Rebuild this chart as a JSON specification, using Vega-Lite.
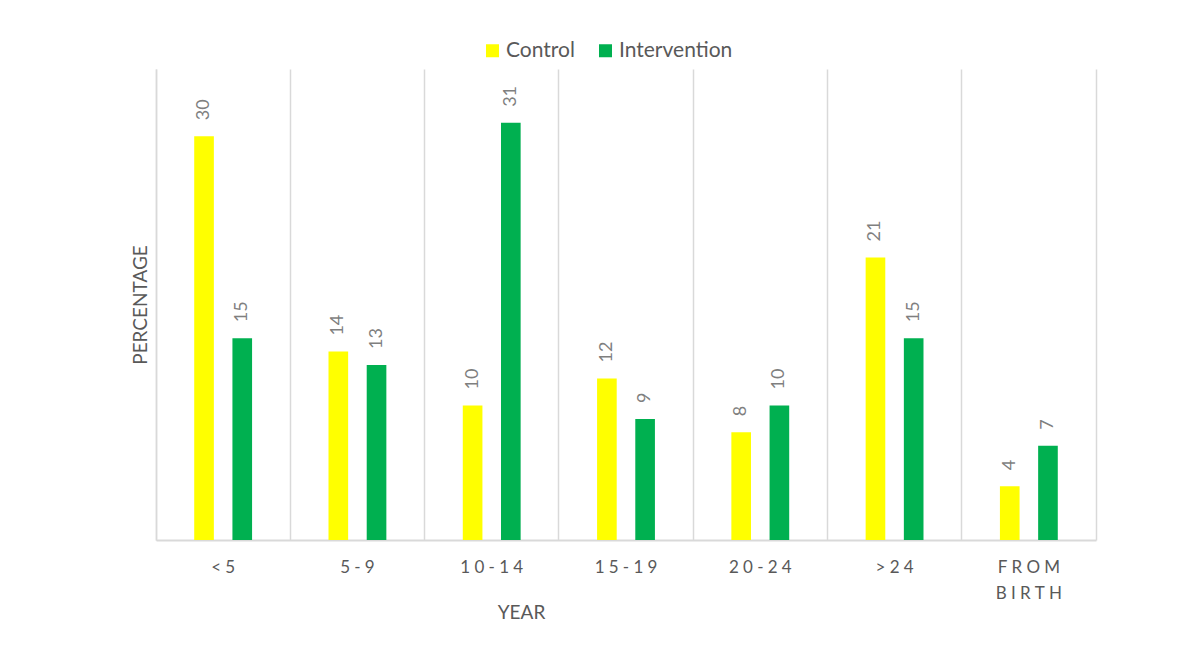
{
  "$schema": "https://vega.github.io/schema/vega-lite/v6.json",
  "width": 940,
  "height": 471,
  "autosize": {"type": "none"},
  "padding": {"left": 156, "top": 69, "right": 102, "bottom": 109},
  "background": "white",
  "config": {"font": "Lato", "view": {"stroke": null}},
  "data": {
    "values": [
      {"age": "<5", "group": "Control", "pct": 30},
      {"age": "<5", "group": "Intervention", "pct": 15},
      {"age": "5-9", "group": "Control", "pct": 14},
      {"age": "5-9", "group": "Intervention", "pct": 13},
      {"age": "10-14", "group": "Control", "pct": 10},
      {"age": "10-14", "group": "Intervention", "pct": 31},
      {"age": "15-19", "group": "Control", "pct": 12},
      {"age": "15-19", "group": "Intervention", "pct": 9},
      {"age": "20-24", "group": "Control", "pct": 8},
      {"age": "20-24", "group": "Intervention", "pct": 10},
      {"age": ">24", "group": "Control", "pct": 21},
      {"age": ">24", "group": "Intervention", "pct": 15},
      {"age": "FROM BIRTH", "group": "Control", "pct": 4},
      {"age": "FROM BIRTH", "group": "Intervention", "pct": 7}
    ]
  },
  "encoding": {
    "x": {
      "field": "age",
      "type": "nominal",
      "sort": ["<5", "5-9", "10-14", "15-19", "20-24", ">24", "FROM BIRTH"],
      "scale": {"paddingInner": 0, "paddingOuter": 0},
      "axis": {
        "title": "YEAR",
        "titleFontSize": 19,
        "titleFontWeight": "normal",
        "titleColor": "#595959",
        "titleX": 365,
        "titleAnchor": "middle",
        "titlePadding": 2,
        "labelAngle": 0,
        "labelFontSize": 17,
        "labelColor": "#595959",
        "labelPadding": 19,
        "labelLineHeight": 26,
        "labelExpr": "split(join(split(datum.label, ''), '\u2005'), '\u2005 \u2005')",
        "ticks": false,
        "grid": true,
        "bandPosition": 0,
        "gridColor": "#d9d9d9",
        "gridWidth": 1.5,
        "domainColor": "#d9d9d9",
        "domainWidth": 2
      }
    },
    "xOffset": {
      "field": "group",
      "type": "nominal",
      "sort": ["Control", "Intervention"],
      "scale": {"paddingInner": 0.486, "paddingOuter": 1.157}
    }
  },
  "layer": [
    {
      "mark": {"type": "bar"},
      "encoding": {
        "y": {
          "field": "pct",
          "type": "quantitative",
          "scale": {"domain": [0, 35]},
          "axis": {
            "title": "PERCENTAGE",
            "titleFontSize": 19,
            "titleFontWeight": "normal",
            "titleColor": "#595959",
            "titlePadding": 6,
            "labels": false,
            "ticks": false,
            "grid": false,
            "domainColor": "#d9d9d9",
            "domainWidth": 1.5
          }
        },
        "color": {
          "field": "group",
          "type": "nominal",
          "scale": {"domain": ["Control", "Intervention"], "range": ["#FFFF00", "#00B050"]},
          "legend": {
            "title": null,
            "orient": "none",
            "direction": "horizontal",
            "legendX": 326,
            "legendY": -29,
            "symbolType": "square",
            "symbolSize": 169,
            "symbolStrokeWidth": 0,
            "symbolOpacity": 1,
            "labelFontSize": 21,
            "labelColor": "#595959",
            "labelOffset": 3,
            "columnPadding": 20
          }
        }
      }
    },
    {
      "mark": {
        "type": "text",
        "angle": 270,
        "align": "left",
        "baseline": "middle",
        "dx": 16,
        "fontSize": 18,
        "color": "#7f7f7f"
      },
      "encoding": {
        "y": {
          "field": "pct",
          "type": "quantitative",
          "axis": {
            "orient": "right",
            "title": null,
            "labels": false,
            "ticks": false,
            "grid": false,
            "domainColor": "#d9d9d9",
            "domainWidth": 1.5
          }
        },
        "text": {"field": "pct", "type": "quantitative"}
      }
    }
  ],
  "resolve": {"axis": {"y": "independent"}}
}
